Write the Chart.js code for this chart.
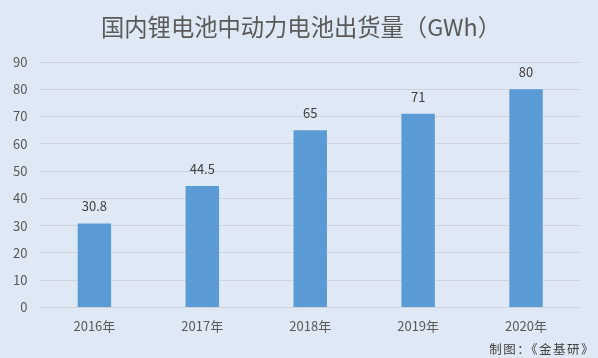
<!DOCTYPE html>
<html>
<head>
<meta charset="utf-8">
<script src="https://cdn.jsdelivr.net/npm/chart.js@4"></script>
<style>
  html, body { margin: 0; padding: 0; background: #dfe9f5; }
  #wrap { width: 598px; height: 358px; }
</style>
</head>
<body>
<div id="wrap"><canvas id="chart_main"></canvas></div>
<script>
var years = ["2016年", "2017年", "2018年", "2019年", "2020年"];
var shipments = [30.8, 44.5, 65, 71, 80];
var yTicks = [0, 10, 20, 30, 40, 50, 60, 70, 80, 90];

var titleText = "国内锂电池中动力电池出货量（GWh）";
var footerText = "制图：《金基研》";

var fontFamily = "'Noto Sans CJK SC', 'Noto Sans', sans-serif";

// value labels above bars
var barLabels = {
    id: 'barLabels',
    afterDatasetsDraw: function(chart) {
        var ctx = chart.ctx;
        var meta = chart.getDatasetMeta(0);
        ctx.save();
        ctx.font = "13px " + fontFamily;
        ctx.fillStyle = "#404040";
        ctx.textAlign = "center";
        ctx.textBaseline = "middle";
        meta.data.forEach(function(bar, i) {
            ctx.fillText(String(shipments[i]), bar.x, bar.y - 17);
        });
        ctx.restore();
    }
};

// background, title and source note
var frame = {
    id: 'frame',
    beforeDraw: function(chart) {
        var ctx = chart.ctx;
        ctx.save();
        ctx.fillStyle = "#dfe9f5";
        ctx.fillRect(0, 0, chart.width, chart.height);
        ctx.restore();
    },
    afterDraw: function(chart) {
        var ctx = chart.ctx;
        ctx.save();
        ctx.textBaseline = "middle";
        ctx.fillStyle = "#595959";
        ctx.font = "23.3px " + fontFamily;
        ctx.textAlign = "center";
        ctx.fillText(titleText, 301, 27);
        ctx.fillStyle = "#404040";
        ctx.font = "12.5px " + fontFamily;
        ctx.letterSpacing = "1.5px";
        ctx.textAlign = "right";
        ctx.fillText(footerText, 595, 349);
        ctx.restore();
    }
};

var elChart = document.getElementById('chart_main');
var objChart = new Chart(elChart, {
    type: 'bar',
    data: {
        labels: years,
        datasets: [{
            data: shipments,
            backgroundColor: "#5b9bd5",
            barPercentage: 0.31,
            categoryPercentage: 1
        }]
    },
    options: {
        responsive: true,
        maintainAspectRatio: false,
        animation: false,
        layout: { padding: { left: 0, right: 18, top: 62, bottom: 13 } },
        plugins: {
            legend: { display: false },
            tooltip: { enabled: false },
            title: { display: false }
        },
        scales: {
            x: {
                grid: { display: false, drawTicks: false },
                border: { display: false },
                ticks: {
                    color: "#595959",
                    font: { family: fontFamily, size: 13 },
                    padding: 11
                }
            },
            y: {
                min: 0,
                max: 90,
                afterBuildTicks: function(axis) {
                    axis.ticks = yTicks.map(function(v) { return { value: v }; });
                },
                grid: { color: "#d0d4da", drawTicks: false },
                border: { display: false },
                ticks: {
                    color: "#595959",
                    font: { family: fontFamily, size: 13 },
                    padding: 13
                }
            }
        }
    },
    plugins: [frame, barLabels]
});
</script>
</body>
</html>
